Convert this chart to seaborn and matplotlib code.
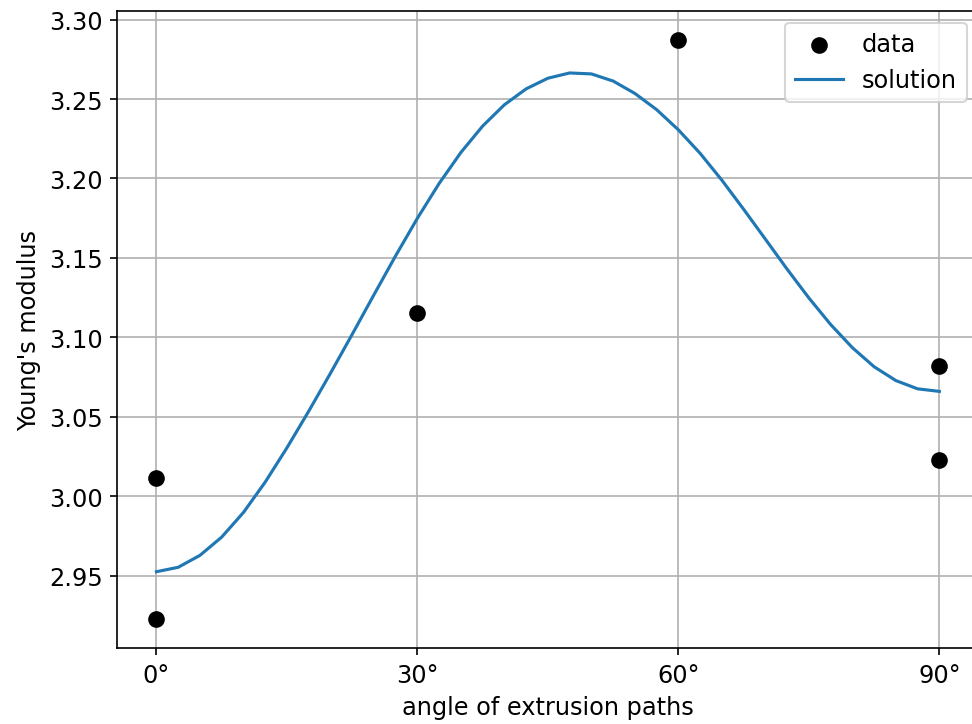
import numpy as np
import pandas as pd
import matplotlib
matplotlib.use("Agg")
import matplotlib.pyplot as plt
import seaborn as sns

# measured points (angle in degrees, Young's modulus)
data_angle = [0, 0, 30, 60, 90, 90]
data_modulus = [3.0117, 2.9225, 3.1151, 3.2874, 3.0817, 3.0228]

# solution curve every 2.5 degrees
curve_angle = [0, 2.5, 5, 7.5, 10, 12.5, 15, 17.5, 20, 22.5, 25, 27.5, 30,
               32.5, 35, 37.5, 40, 42.5, 45, 47.5, 50, 52.5, 55, 57.5, 60,
               62.5, 65, 67.5, 70, 72.5, 75, 77.5, 80, 82.5, 85, 87.5, 90]
curve_modulus = [2.9525, 2.9553, 2.9628, 2.9743, 2.9898, 3.0089, 3.0305,
                 3.0535, 3.0774, 3.1019, 3.1268, 3.1514, 3.1750, 3.1969,
                 3.2164, 3.2330, 3.2464, 3.2564, 3.2631, 3.2664, 3.2658,
                 3.2613, 3.2535, 3.2433, 3.2306, 3.2158, 3.1989, 3.1806,
                 3.1618, 3.1429, 3.1248, 3.1081, 3.0935, 3.0815, 3.0728,
                 3.0676, 3.0660]

x_ticks = [0, 30, 60, 90]
x_tick_labels = ['0°', '30°', '60°', '90°']
y_ticks = [2.95, 3.00, 3.05, 3.10, 3.15, 3.20, 3.25, 3.30]

df_data = pd.DataFrame({'angle': data_angle, 'modulus': data_modulus})
df_curve = pd.DataFrame({'angle': curve_angle, 'modulus': curve_modulus})

plt.rcParams['font.size'] = 11.5

fig = plt.figure(figsize=(6.48, 4.8333), dpi=150)
ax = fig.add_axes([0.1207, 0.1044, 0.8860, 0.8795])

sns.scatterplot(data=df_data, x='angle', y='modulus', color='black',
                s=64, linewidth=0, label='data', ax=ax, zorder=3)
sns.lineplot(data=df_curve, x='angle', y='modulus', color='#1f77b4',
             linewidth=1.5, sort=False, estimator=None, label='solution', ax=ax)

ax.set_xticks(x_ticks)
ax.set_xticklabels(x_tick_labels)
ax.set_yticks(y_ticks)
ax.set_yticklabels([f'{v:.2f}' for v in y_ticks])
ax.set_xlim(-4.5, 94.5)
ax.set_ylim(2.9043, 3.3056)
ax.set_xlabel('angle of extrusion paths')
ax.set_ylabel("Young's modulus")
ax.grid(True, color='#b0b0b0', linewidth=0.8)
ax.set_axisbelow(True)
ax.legend(loc='upper right')

fig.savefig('out.png', dpi=150)
